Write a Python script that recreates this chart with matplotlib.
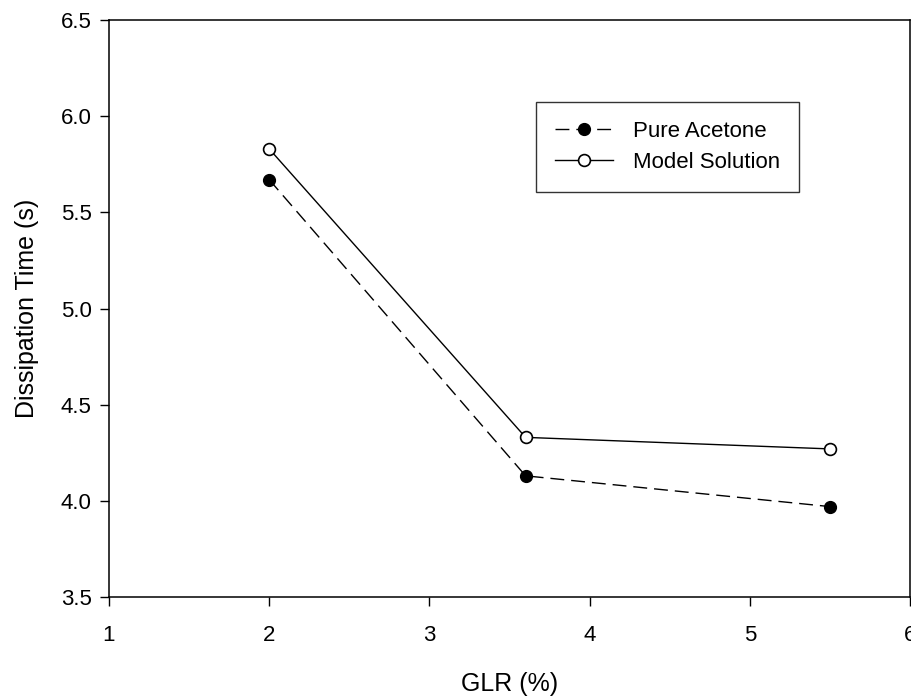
import matplotlib
matplotlib.use('Agg')
import matplotlib.pyplot as plt

plt.rcParams['font.family'] = ['Liberation Sans', 'DejaVu Sans']

glr = [2.0, 3.6, 5.5]
pure_acetone = [5.67, 4.13, 3.97]
model_solution = [5.83, 4.33, 4.27]

fig = plt.figure(figsize=(9.12, 6.98), dpi=100)
ax = fig.add_axes([0.1195, 0.1447, 0.8785, 0.8266])

ax.plot(glr, pure_acetone, color='black', linestyle=(0, (10, 5)), linewidth=1,
        marker='o', markersize=8.5, markerfacecolor='black', markeredgecolor='black',
        label='Pure Acetone')
ax.plot(glr, model_solution, color='black', linestyle='-', linewidth=1,
        marker='o', markersize=8.5, markerfacecolor='white', markeredgecolor='black',
        markeredgewidth=1.2, label='Model Solution')

ax.set_xlim(1, 6)
ax.set_ylim(3.5, 6.5)
ax.set_xticks([1, 2, 3, 4, 5, 6])
ax.set_yticks([3.5, 4.0, 4.5, 5.0, 5.5, 6.0, 6.5])
ax.set_yticklabels(['3.5', '4.0', '4.5', '5.0', '5.5', '6.0', '6.5'])
ax.tick_params(direction='out', length=6.5, width=1, labelsize=16, pad=6,
               top=False, right=False)
ax.tick_params(axis='x', pad=13.5)
for s in ax.spines.values():
    s.set_linewidth(1.1)

ax.set_xlabel('GLR (%)', fontsize=18, labelpad=19)
ax.set_ylabel('Dissipation Time (s)', fontsize=18, labelpad=16)

leg = ax.legend(loc='upper left', bbox_to_anchor=(0.533, 0.858), fontsize=16,
                frameon=True, fancybox=False, edgecolor='black', handlelength=2.6,
                borderpad=0.85, labelspacing=0.45, handletextpad=0.9, borderaxespad=0)
leg.get_frame().set_linewidth(1.0)

fig.savefig('out.png', dpi=100)
